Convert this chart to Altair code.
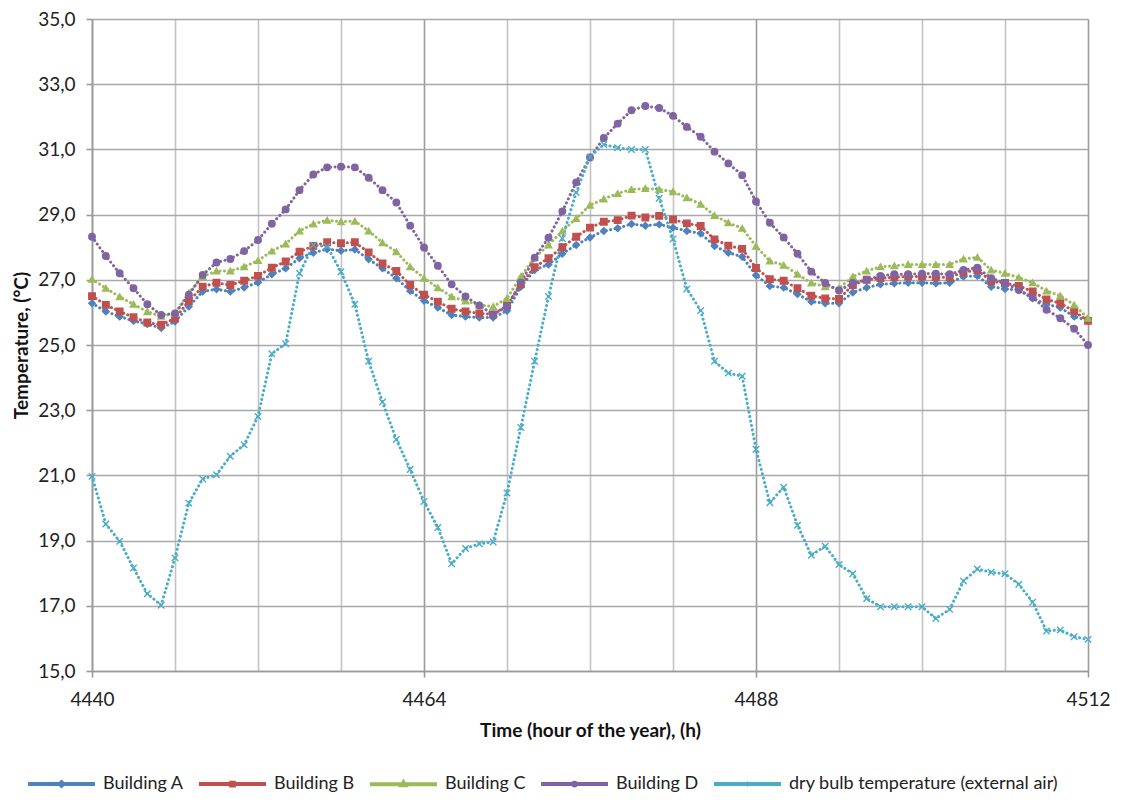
import altair as alt
import pandas as pd

hours = list(range(4440, 4513))

building_a = [26.28, 26.03, 25.87, 25.74, 25.64, 25.52, 25.72, 26.18, 26.64, 26.71,
              26.64, 26.76, 26.92, 27.17, 27.35, 27.66, 27.83, 27.94, 27.89, 27.93,
              27.63, 27.35, 27.05, 26.66, 26.36, 26.15, 25.92, 25.87, 25.84, 25.84,
              26.05, 26.79, 27.30, 27.47, 27.80, 28.07, 28.30, 28.50, 28.58, 28.71,
              28.66, 28.70, 28.60, 28.50, 28.42, 28.04, 27.83, 27.71, 27.14, 26.81,
              26.76, 26.56, 26.33, 26.28, 26.28, 26.61, 26.76, 26.86, 26.89, 26.91,
              26.91, 26.89, 26.91, 27.10, 27.12, 26.79, 26.72, 26.69, 26.43, 26.25,
              26.15, 25.87, 25.75]

building_b = [26.50, 26.23, 26.03, 25.85, 25.69, 25.62, 25.82, 26.35, 26.79, 26.91,
              26.84, 26.97, 27.12, 27.37, 27.56, 27.86, 28.04, 28.15, 28.12, 28.15,
              27.84, 27.50, 27.27, 26.84, 26.54, 26.33, 26.11, 26.03, 25.97, 25.94,
              26.21, 26.86, 27.39, 27.66, 28.00, 28.32, 28.60, 28.78, 28.83, 28.97,
              28.91, 28.96, 28.85, 28.73, 28.65, 28.24, 28.05, 27.95, 27.36, 27.02,
              26.97, 26.74, 26.51, 26.43, 26.41, 26.84, 27.00, 27.05, 27.08, 27.10,
              27.10, 27.08, 27.08, 27.23, 27.30, 26.95, 26.90, 26.81, 26.64, 26.40,
              26.28, 26.03, 25.74]

building_c = [27.02, 26.74, 26.48, 26.25, 26.02, 25.88, 25.97, 26.60, 27.10, 27.27,
              27.27, 27.40, 27.59, 27.88, 28.10, 28.50, 28.71, 28.83, 28.78, 28.80,
              28.50, 28.14, 27.86, 27.40, 27.05, 26.76, 26.48, 26.35, 26.23, 26.18,
              26.43, 27.10, 27.68, 28.07, 28.50, 28.88, 29.29, 29.48, 29.65, 29.77,
              29.80, 29.77, 29.70, 29.52, 29.32, 28.97, 28.75, 28.58, 28.03, 27.58,
              27.45, 27.17, 26.90, 26.79, 26.74, 27.10, 27.27, 27.40, 27.43, 27.47,
              27.47, 27.47, 27.47, 27.64, 27.69, 27.30, 27.20, 27.07, 26.91, 26.66,
              26.51, 26.23, 25.82]

building_d = [28.32, 27.73, 27.20, 26.74, 26.25, 25.92, 25.97, 26.54, 27.15, 27.53,
              27.64, 27.88, 28.22, 28.72, 29.16, 29.75, 30.23, 30.45, 30.47, 30.45,
              30.13, 29.75, 29.37, 28.66, 27.99, 27.43, 26.86, 26.49, 26.21, 25.94,
              26.18, 26.91, 27.68, 28.29, 29.10, 29.99, 30.75, 31.35, 31.79, 32.20,
              32.33, 32.27, 32.03, 31.69, 31.39, 30.93, 30.57, 30.21, 29.40, 28.75,
              28.30, 27.80, 27.25, 26.90, 26.67, 26.90, 27.00, 27.12, 27.17, 27.17,
              27.19, 27.19, 27.17, 27.30, 27.37, 27.05, 26.90, 26.69, 26.46, 26.08,
              25.82, 25.50, 25.00]

dry_bulb = [20.97, 19.51, 18.98, 18.16, 17.37, 17.02, 18.47, 20.15, 20.89, 21.02,
            21.59, 21.94, 22.81, 24.73, 25.04, 27.20, 28.07, 28.02, 27.25, 26.25,
            24.50, 23.25, 22.10, 21.18, 20.20, 19.40, 18.29, 18.76, 18.90, 18.96,
            20.46, 22.47, 24.50, 26.49, 28.27, 29.68, 30.77, 31.15, 31.05, 31.00,
            31.00, 29.50, 28.25, 26.72, 26.06, 24.50, 24.14, 24.04, 21.80, 20.16,
            20.64, 19.47, 18.55, 18.83, 18.27, 17.98, 17.22, 16.97, 16.97, 16.97,
            16.97, 16.61, 16.89, 17.76, 18.13, 18.03, 17.98, 17.66, 17.11, 16.23,
            16.26, 16.05, 15.97]

series_names = ["Building A", "Building B", "Building C", "Building D",
                "dry bulb temperature (external air)"]
series_values = [building_a, building_b, building_c, building_d, dry_bulb]

y_ticks = [15, 17, 19, 21, 23, 25, 27, 29, 31, 33, 35]
x_grid = list(range(4440, 4513, 6))

# styles
series_colors = ["#4F81BD", "#C0504D", "#9BBB59", "#8064A2", "#4BACC6"]
series_markers = ["diamond", "square", "triangle-up", "circle",
                  "M-1,-1L1,1M-1,1L1,-1"]
legend_shapes = [
    "M-1,0L1,0M0,-0.05L0.05,0L0,0.05L-0.05,0Z",
    "M-1,0L1,0M-0.04,-0.04L0.04,-0.04L0.04,0.04L-0.04,0.04Z",
    "M-1,0L1,0M0,-0.05L0.05,0.035L-0.05,0.035Z",
    "M-1,0L1,0M-0.04,0A0.04,0.04,0,1,1,0.04,0A0.04,0.04,0,1,1,-0.04,0Z",
    "M-1,0L1,0M-0.04,-0.04L0.04,0.04M-0.04,0.04L0.04,-0.04",
]

rows = []
for name, col, mk, vals in zip(series_names, series_colors, series_markers, series_values):
    for h, v in zip(hours, vals):
        rows.append({"hour": h, "temp": v, "series": name, "col": col, "marker": mk})
df = pd.DataFrame(rows)
legend_df = pd.DataFrame({"series": series_names})

FONT = "Lato"

x_enc = alt.X(
    "hour:Q",
    scale=alt.Scale(domain=[4440, 4512], nice=False, zero=False),
    axis=alt.Axis(
        values=x_grid,
        labelExpr="datum.value % 24 === 0 ? datum.value : ''",
        title="Time (hour of the year), (h)",
        grid=True,
        gridColor={"condition": {"test": "datum.value % 24 === 0", "value": "#9c9c9c"},
                   "value": "#c3c3c7"},
        gridWidth=1.6,
        tickOpacity={"condition": {"test": "datum.value % 24 === 0", "value": 1},
                     "value": 0},
        tickColor="#999999",
        tickSize=6,
        tickWidth=1.6,
        domainColor="#999999",
        domainWidth=1.6,
        labelFontSize=19,
        labelColor="#222222",
        labelPadding=13,
        labelFlush=False,
        labelOverlap=False,
        titleFontSize=19,
        titleFontWeight="bold",
        titleColor="#111111",
        titlePadding=12,
    ),
)

y_enc = alt.Y(
    "temp:Q",
    scale=alt.Scale(domain=[15, 35], nice=False, zero=False),
    axis=alt.Axis(
        values=y_ticks,
        labelExpr="replace(format(datum.value, '.1f'), '.', ',')",
        title="Temperature, (°C)",
        grid=True,
        gridColor="#a8a8a8",
        gridWidth=1.6,
        tickColor="#999999",
        tickSize=6,
        tickWidth=1.6,
        domainColor="#999999",
        domainWidth=1.6,
        labelFontSize=19,
        labelColor="#222222",
        labelPadding=11,
        labelFlush=False,
        titleFontSize=19,
        titleFontWeight="bold",
        titleColor="#111111",
        titlePadding=6,
    ),
)

lines = alt.Chart(df).mark_line(
    strokeDash=[0.1, 4.4], strokeCap="round", strokeWidth=3
).encode(
    x=x_enc,
    y=y_enc,
    color=alt.Color("col:N", scale=None),
    detail="series:N",
    order="hour:Q",
)

points = alt.Chart(df).mark_point(filled=True, size=42, strokeWidth=1.4, opacity=1).encode(
    x="hour:Q",
    y="temp:Q",
    color=alt.Color("col:N", scale=None),
    stroke=alt.Stroke("col:N", scale=None),
    shape=alt.Shape("marker:N", scale=None),
)

legend_props = dict(
    title=None,
    orient="none",
    legendX=-66,
    legendY=729,
    direction="horizontal",
    columns=5,
    symbolSize=4489,
    symbolStrokeWidth=4,
    symbolOpacity=1,
    labelFontSize=18,
    labelColor="#222222",
    labelOffset=6,
    columnPadding=7,
    labelLimit=400,
)

legend_layer = alt.Chart(legend_df).mark_point(filled=False, clip=True, size=40).encode(
    x=alt.value(-200),
    y=alt.value(-200),
    color=alt.Color(
        "series:N",
        scale=alt.Scale(domain=series_names, range=series_colors),
        legend=alt.Legend(**legend_props),
    ),
    shape=alt.Shape(
        "series:N",
        scale=alt.Scale(domain=series_names, range=legend_shapes),
        legend=alt.Legend(**legend_props),
    ),
)

chart = alt.layer(legend_layer, lines, points).properties(
    width=996,
    height=652,
    autosize=alt.AutoSizeParams(type="none"),
    padding={"left": 84, "top": 11, "right": 24, "bottom": 124},
).configure(
    font=FONT,
).configure_view(
    strokeWidth=0,
)

chart.save("out.html", embed_options={"renderer": "svg", "actions": False})
